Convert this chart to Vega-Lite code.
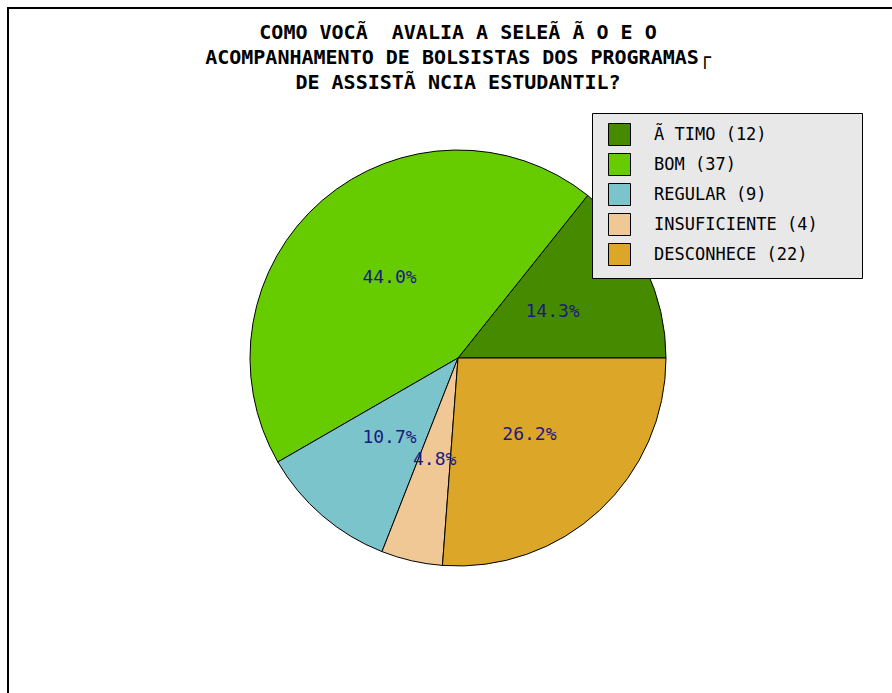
{
  "$schema": "https://vega.github.io/schema/vega-lite/v6.json",
  "width": 900,
  "height": 700,
  "autosize": {"type": "none"},
  "padding": {"left": 8, "top": 8, "right": 0, "bottom": 0},
  "background": "white",
  "view": {"stroke": "black", "strokeWidth": 2},
  "title": {
    "text": ["COMO VOCÃ\u00a0 AVALIA A SELEÃ Ã O E O", "ACOMPANHAMENTO DE BOLSISTAS DOS PROGRAMAS┌", "DE ASSISTÃ NCIA ESTUDANTIL?"],
    "font": "DejaVu Sans Mono",
    "fontWeight": "bold",
    "fontSize": 20,
    "lineHeight": 25,
    "color": "black",
    "anchor": "middle",
    "frame": "group",
    "offset": -85
  },
  "data": {
    "values": [
      {"resposta": "Ã TIMO", "legenda": "Ã TIMO (12)", "valor": 12, "pct": "14.3%", "ordem": 1},
      {"resposta": "BOM", "legenda": "BOM (37)", "valor": 37, "pct": "44.0%", "ordem": 2},
      {"resposta": "REGULAR", "legenda": "REGULAR (9)", "valor": 9, "pct": "10.7%", "ordem": 3},
      {"resposta": "INSUFICIENTE", "legenda": "INSUFICIENTE (4)", "valor": 4, "pct": "4.8%", "ordem": 4},
      {"resposta": "DESCONHECE", "legenda": "DESCONHECE (22)", "valor": 22, "pct": "26.2%", "ordem": 5}
    ]
  },
  "encoding": {
    "theta": {"field": "valor", "type": "quantitative", "stack": true, "scale": {"range": [1.5708, -4.7124]}},
    "order": {"field": "ordem", "type": "ordinal"}
  },
  "layer": [
    {
      "mark": {"type": "arc", "outerRadius": 208, "stroke": "black", "strokeWidth": 1},
      "encoding": {
        "color": {
          "field": "legenda",
          "type": "nominal",
          "scale": {
            "domain": ["Ã TIMO (12)", "BOM (37)", "REGULAR (9)", "INSUFICIENTE (4)", "DESCONHECE (22)"],
            "range": ["#468a00", "#66cc00", "#7cc4cc", "#f0c896", "#dca628"]
          },
          "legend": {
            "orient": "none",
            "legendX": 584,
            "legendY": 105,
            "title": "\u00a0",
            "titleOrient": "right",
            "titlePadding": 34,
            "titleFont": "DejaVu Sans Mono",
            "titleFontSize": 17,
            "symbolType": "square",
            "symbolSize": 484,
            "symbolStrokeColor": "black",
            "symbolStrokeWidth": 1,
            "symbolOpacity": 1,
            "labelFont": "DejaVu Sans Mono",
            "labelFontSize": 17,
            "labelColor": "black",
            "labelLimit": 400,
            "rowPadding": 3,
            "padding": 10,
            "symbolOffset": 6,
            "labelOffset": 23,
            "fillColor": "#e8e8e8",
            "strokeColor": "black"
          }
        }
      }
    },
    {
      "mark": {"type": "text", "radius": 105, "font": "DejaVu Sans Mono", "fontSize": 18, "fill": "#1a1a80", "align": "center", "baseline": "middle"},
      "encoding": {"text": {"field": "pct", "type": "nominal"}}
    }
  ]
}
